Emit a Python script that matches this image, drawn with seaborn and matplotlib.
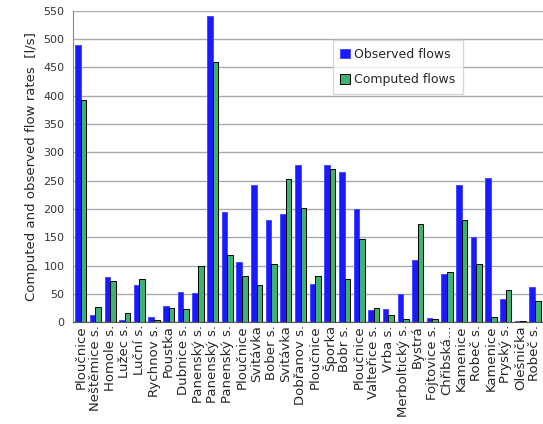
import pandas as pd
import matplotlib.pyplot as plt
import seaborn as sns
import numpy as np

STATIONS = ["Ploučnice", "Neštěmice s.", "Homole s.", "Lužec s.", "Luční s.",
            "Rychnov s.", "Poustka", "Dubnice s.", "Panenský s.", "Panenský s.",
            "Panenský s.", "Ploučnice", "Svitávka", "Bober s.", "Svitávka",
            "Dobřanov s.", "Ploučnice", "Šporka", "Bobr s.", "Ploučnice",
            "Valteřice s.", "Vrba s.", "Merboltický s.", "Bystrá", "Fojtovice s.",
            "Chřibská...", "Kamenice", "Robeč s.", "Kamenice", "Pryský s.",
            "Olešnička", "Robeč s."]
OBSERVED = [490, 12, 80, 4, 65, 10, 28, 53, 52, 540, 194, 106, 242, 181, 191,
            277, 67, 277, 266, 200, 22, 23, 49, 110, 8, 86, 242, 150, 254, 41, 3, 62]
COMPUTED = [393, 27, 72, 17, 76, 4, 25, 24, 99, 460, 119, 81, 65, 102, 252,
            202, 81, 270, 76, 147, 25, 12, 5, 173, 6, 89, 180, 102, 9, 57, 3, 38]
SERIES = ["Observed flows", "Computed flows"]
Y_TICKS = list(range(0, 551, 50))

idx = list(range(len(STATIONS)))
df = pd.concat([
    pd.DataFrame({"idx": idx, "flow": OBSERVED, "series": SERIES[0]}),
    pd.DataFrame({"idx": idx, "flow": COMPUTED, "series": SERIES[1]}),
])

sns.set_style("white")
plt.rcParams['font.family'] = ['DejaVu Sans']

fig = plt.figure(figsize=(5.43, 4.24), dpi=100)
ax = fig.add_axes([0.134, 0.24, 0.866, 0.735])

sns.barplot(data=df, x="idx", y="flow", hue="series", hue_order=SERIES,
            palette={SERIES[0]: "#1a1aff", SERIES[1]: "#3cb371"},
            width=0.76, gap=0.0, ax=ax, legend=True, saturation=1)

for patch in ax.patches:
    fc = patch.get_facecolor()
    if fc[1] > 0.5:
        patch.set_edgecolor("black")
    else:
        patch.set_edgecolor("#4a4aff")
    patch.set_linewidth(0.7)

ax.set_ylim(0, 550)
ax.set_xlim(-0.55, len(STATIONS) - 0.45)
ax.set_yticks(Y_TICKS)
ax.tick_params(axis="y", labelsize=8, length=0, colors="#333333", pad=6)
ax.set_xticks(idx)
ax.set_xticklabels(STATIONS, rotation=90, fontsize=9.5)
ax.set_xticks(np.arange(-0.5, len(STATIONS), 1), minor=True)
ax.tick_params(axis="x", which="major", length=0, pad=2)
ax.tick_params(axis="x", which="minor", length=4, direction="out", color="#555555")
ax.yaxis.grid(True, color="#aaaaaa", linewidth=1)
ax.set_axisbelow(True)
for s in ["top", "right"]:
    ax.spines[s].set_visible(False)
ax.spines["left"].set_color("#888888")
ax.spines["bottom"].set_color("#555555")
ax.set_xlabel("")
ax.set_ylabel("Computed and observed flow rates  [l/s]", fontsize=9.5)

leg = ax.legend(loc="upper left", bbox_to_anchor=(0.54, 0.925), fontsize=9,
                frameon=True, fancybox=False, edgecolor="#cccccc",
                handlelength=0.8, handleheight=0.8, handletextpad=0.3,
                labelspacing=1.0, borderpad=0.6)
for h in leg.legend_handles:
    if h.get_facecolor()[1] > 0.5:
        h.set_edgecolor("black")
    else:
        h.set_edgecolor("#4a4aff")

fig.savefig("out.png", dpi=100)
